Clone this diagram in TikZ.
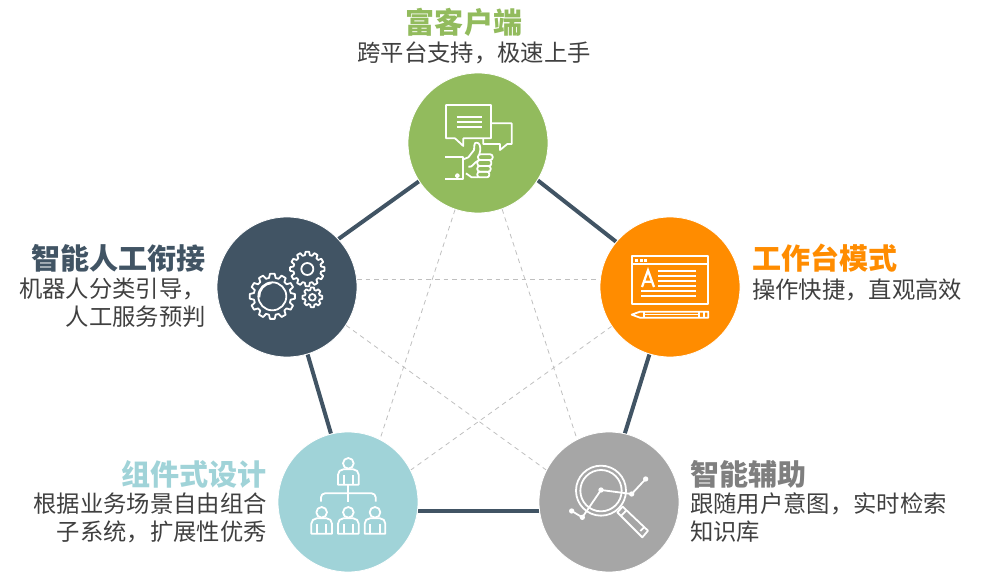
\documentclass[tikz,border=0pt]{standalone}
\usepackage{fontspec}
\setmainfont{Noto Sans CJK SC}
\usetikzlibrary{backgrounds}
\definecolor{cgreen}{HTML}{92BB5D}
\definecolor{corange}{HTML}{FF8C00}
\definecolor{cslate}{HTML}{415464}
\definecolor{cteal}{HTML}{A0D3D8}
\definecolor{cgrey}{HTML}{A6A6A6}
\definecolor{ctext}{HTML}{404040}
\definecolor{ctgrey}{HTML}{7F7F7F}
\newcommand{\fwc}{^^^^ff0c}
\tikzset{
  disc/.style={circle,minimum size=105pt,inner sep=0pt,fill=#1,draw=white,line width=0.6pt},
  rim/.style={draw=cslate,line width=3pt},
  star/.style={draw=black!25,line width=0.6pt,dash pattern=on 3.5pt off 3pt},
  ttl/.style={inner sep=0pt,font=\fontsize{21.8}{26}\selectfont\bfseries,text=#1},
  body/.style={inner sep=0pt,text=ctext,font=\fontsize{17.5}{21}\selectfont},
  iconline/.style={draw=white,line width=1.35pt,line join=round},
  iconthin/.style={draw=white,line width=0.9pt,line join=round},
  zoomed/.style={shift={#1},x=0.25pt,y=-0.25pt}
}
\newcommand{\cogicon}[6]{% cx cy Router Rinner teeth linestyle
  \draw[#6] ({#1+#4*cos(-0.34*360/#5)},{#2+#4*sin(-0.34*360/#5)})
    foreach \i in {1,...,#5} {
      -- ({#1+#3*cos((\i-1-0.2)*360/#5)},{#2+#3*sin((\i-1-0.2)*360/#5)})
      -- ({#1+#3*cos((\i-1+0.2)*360/#5)},{#2+#3*sin((\i-1+0.2)*360/#5)})
      -- ({#1+#4*cos((\i-1+0.34)*360/#5)},{#2+#4*sin((\i-1+0.34)*360/#5)})
      -- ({#1+#4*cos((\i-1+0.66)*360/#5)},{#2+#4*sin((\i-1+0.66)*360/#5)})
    } -- cycle;}
\newcommand{\personicon}[2]{% cx, head y
  \draw[iconline] (#1,#2) circle (16);
  \draw[iconline] (#1-31,#2+64) -- (#1-31,#2+34) to[out=90,in=180] (#1-15,#2+18) -- (#1+15,#2+18)
     to[out=0,in=90] (#1+31,#2+34) -- (#1+31,#2+64) -- cycle;
  \draw[iconline] (#1-14,#2+36) -- (#1-14,#2+64) (#1+14,#2+36) -- (#1+14,#2+64);}
\begin{document}
\begin{tikzpicture}[x=0.75pt,y=-0.75pt]
\useasboundingbox (0,0) rectangle (982,577);
% discs
\node[disc=cgreen]  (top)   at (478,143) {};
\node[disc=cslate]  (left)  at (287,287) {};
\node[disc=corange] (right) at (670,287) {};
\node[disc=cteal]   (bl)    at (348,502) {};
\node[disc=cgrey]   (br)    at (609,502) {};
% connectors
\begin{scope}[on background layer]
  \draw[star] (top.-109) -- (bl.63);
  \draw[star] (top.-70) -- (br.117);
  \draw[star] (left.6) -- (right.174);
  \draw[star] (left.-33) -- (br.153);
  \draw[star] (right.214) -- (bl.27);
  \draw[rim] (top.-32) -- (right.140);
  \draw[rim] (right.-107) -- (br.77);
  \draw[rim] (br.187) -- (bl.-7);
  \draw[rim] (bl.104) -- (left.-73);
  \draw[rim] (left.43) -- (top.213);
\end{scope}
% labels
\node[ttl=cgreen] (t1) at (464,22) {富客户端};
\node[body] (b1) at (474,53) {跨平台支持\fwc 极速上手};
\node[ttl=corange,anchor=west] (t2) at (752,258) {工作台模式};
\node[body,anchor=west] (b2) at (752,290) {操作快捷\fwc 直观高效};
\node[ttl=cslate,anchor=east] (t3) at (206,258) {智能人工衔接};
\node[body,anchor=east,align=right] (b3) at (206,303) {机器人分类引导\fwc\\人工服务预判};
\node[ttl=cteal,anchor=east] (t4) at (267,474) {组件式设计};
\node[body,anchor=east,align=right] (b4) at (267,518) {根据业务场景自由组合\\子系统\fwc 扩展性优秀};
\node[ttl=ctgrey,anchor=west] (t5) at (690,474) {智能辅助};
\node[body,anchor=west,align=left] (b5) at (690,518) {跟随用户意图\fwc 实时检索\\知识库};
% chat / thumb icon
\begin{scope}[zoomed={(400,70)}]
  \draw[iconline] (138,105) -- (273,105) -- (273,205) -- (190,205) -- (190,228) -- (165,205) -- (138,205) -- cycle;
  \draw[iconline] (275,160) -- (335,160) -- (335,222) -- (322,222) -- (300,240) -- (300,222) -- (250,222) -- (250,205);
  \foreach \yy in {140,155,170} \draw[white,line width=1.3pt] (170,\yy) -- (245,\yy);
  \draw[iconline] (135,262) -- (190,262) -- (190,328) -- (135,328);
  \draw[iconline] (172,317) circle (5);
  \draw[iconline] (190,268) -- (205,262) -- (222,240) to[out=80,in=170] (230,218) to[out=0,in=90] (241,240) -- (238,253);
  \draw[iconline] (198,310) -- (215,322) -- (236,322);
  \draw[iconline,rounded corners=1.8pt] (234,253) rectangle (278,270);
  \draw[iconline,rounded corners=1.8pt] (232,270) rectangle (274,288);
  \draw[iconline,rounded corners=1.8pt] (232,288) rectangle (272,305);
  \draw[iconline,rounded corners=1.8pt] (232,305) rectangle (268,322);
  \draw[iconline] (205,290) to[out=-20,in=200] (234,272);
\end{scope}
% gears icon
\begin{scope}[zoomed={(210,210)}]
  \cogicon{187}{259}{68}{56}{12}{iconline}
  \draw[iconline] (187,259) circle (42);
  \draw[iconline] (148,262) arc (176:265:40);
  \cogicon{292}{177}{52}{42}{12}{iconline}
  \draw[iconline] (292,177) circle (18);
  \cogicon{307}{262}{30}{23}{8}{iconline}
  \draw[iconline] (307,262) circle (10);
\end{scope}
% window icon
\begin{scope}[zoomed={(595,210)}]
  \draw[iconline] (112,138) rectangle (340,282);
  \draw[iconline] (112,162) -- (340,162);
  \foreach \xx in {120,134,147} \fill[white] (\xx,146) rectangle +(9,9);
  \draw[white,line width=1.7pt] (141,231) -- (159,181) -- (177,231) (147,215) -- (171,215);
  \foreach \yy in {182,198,213,228} \draw[iconline] (190,\yy) -- (303,\yy);
  \foreach \yy in {242,258} \draw[iconline] (138,\yy) -- (303,\yy);
  \draw[iconline] (110,314) -- (135,305) -- (340,305) -- (340,323) -- (135,323) -- cycle;
  \draw[iconline] (147,305) -- (147,323) (311,305) -- (311,323) (326,305) -- (326,323);
  \draw[iconthin] (147,314) -- (311,314);
\end{scope}
% organisation icon
\begin{scope}[zoomed={(270,425)}]
  \personicon{235}{115}
  \draw[iconline] (235,180) -- (235,230);
  \draw[iconline] (153,230) -- (153,217) to[out=90,in=180] (165,205) -- (305,205) to[out=0,in=90] (317,217) -- (317,230);
  \personicon{155}{262}
  \personicon{235}{262}
  \personicon{315}{262}
\end{scope}
% magnifier icon
\begin{scope}[zoomed={(535,425)}]
  \draw[iconline] (198,197) circle (75);
  \draw[iconline] (198,197) circle (62);
  \draw[iconline] (247,262) -- (263,245) -- (339,317) -- (322,337) -- cycle;
  \draw[iconline] (258,273) -- (274,256);
  \draw[iconline] (316,318) -- (328,306);
  \draw[iconline] (110,258) -- (142,277) -- (198,195) -- (290,207) -- (332,162);
  \foreach \px/\py in {110/258,142/277,198/195,290/207,332/162} \fill[white] (\px,\py) circle (8);
\end{scope}
\end{tikzpicture}
\end{document}
